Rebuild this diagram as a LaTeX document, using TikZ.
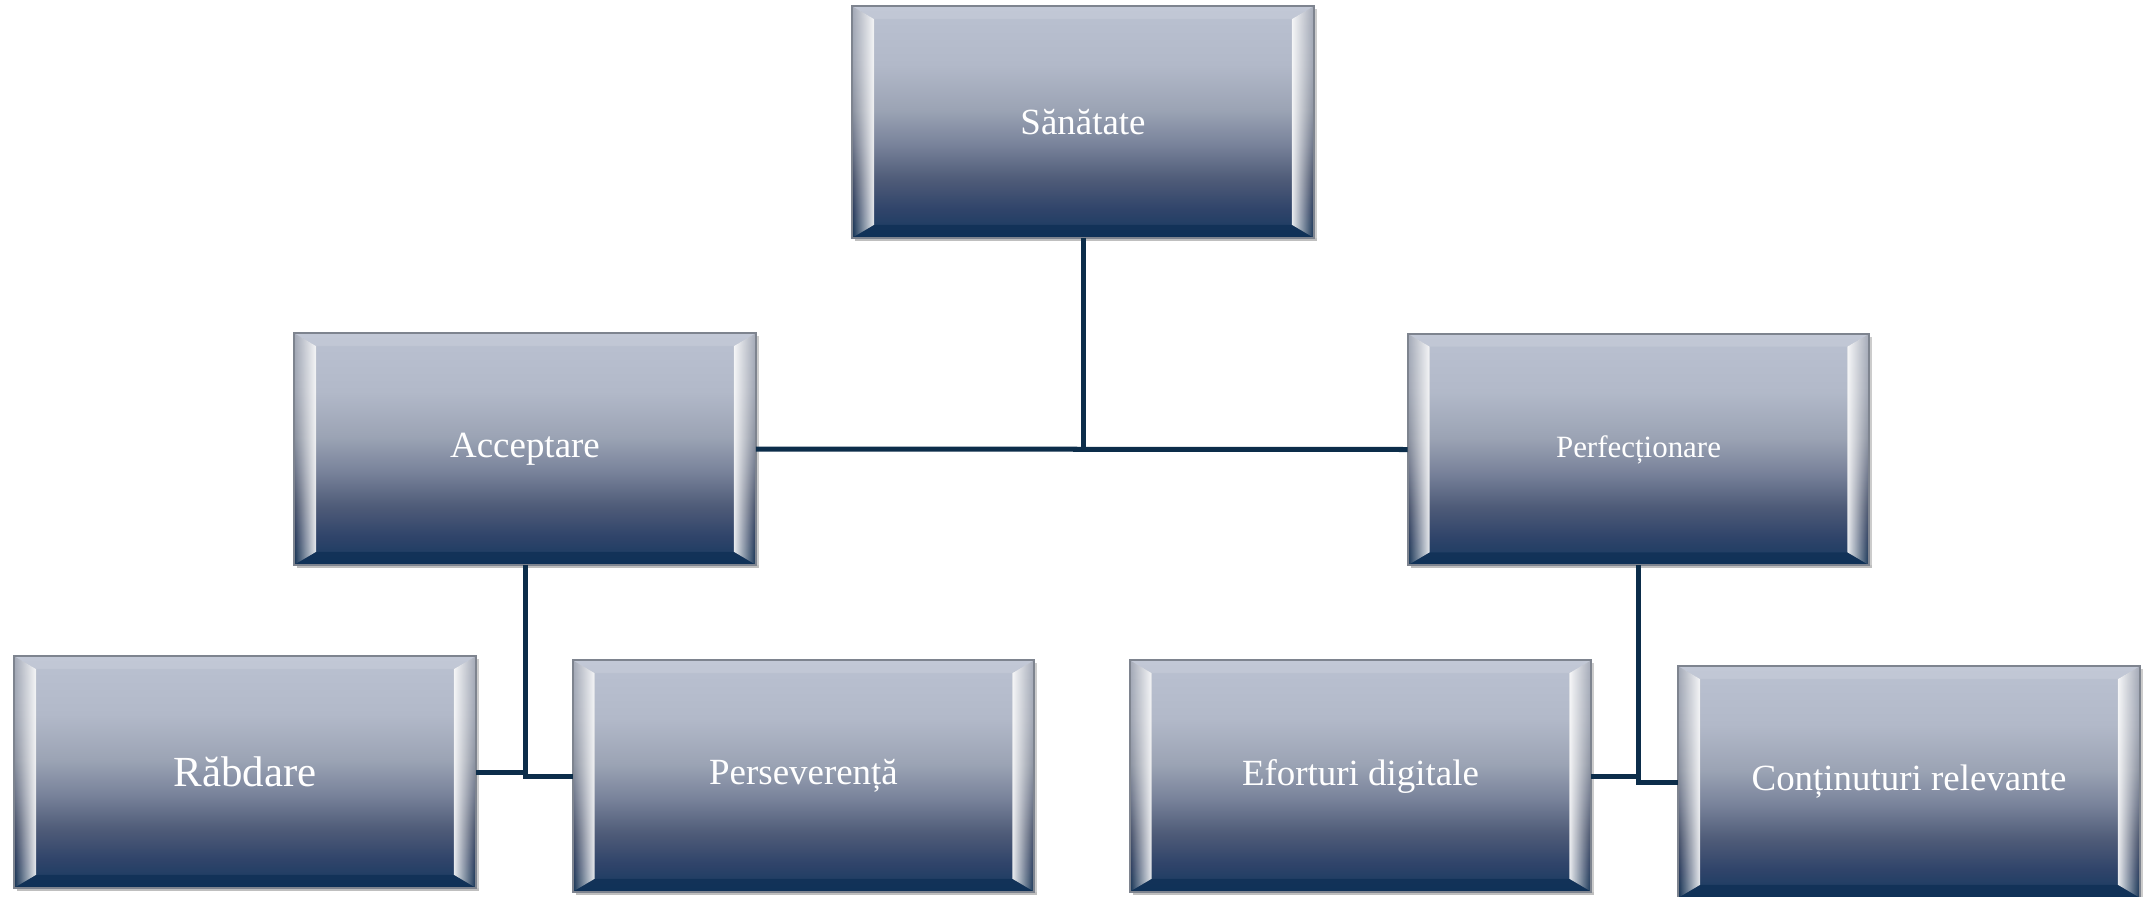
\documentclass[tikz,border=0pt]{standalone}
\usepackage{fontspec}
\setmainfont{Liberation Serif}
\usetikzlibrary{calc,fadings}
\definecolor{fbot}{HTML}{163A60}
\definecolor{fb1}{HTML}{30446A}
\definecolor{fb2}{HTML}{4E5B78}
\definecolor{fmid}{HTML}{78829A}
\definecolor{fmid2}{HTML}{9BA3B4}
\definecolor{ftop2}{HTML}{B2B9C9}
\definecolor{ftop}{HTML}{BAC1D1}
\definecolor{bevdark}{HTML}{0E2F55}
\definecolor{boxedge}{HTML}{7E848F}
\definecolor{connc}{HTML}{0C2D4A}
\pgfdeclareverticalshading{bevface}{100bp}{color(0bp)=(fbot); color(25bp)=(fbot); color(31bp)=(fb1); color(37.5bp)=(fb2); color(45bp)=(fmid); color(52.5bp)=(fmid2); color(62.5bp)=(ftop2); color(75bp)=(ftop); color(100bp)=(ftop)}
\tikzset{
  bx/.style={rectangle, inner sep=0pt, minimum width=4.6cm, minimum height=2.3cm,
             shading=bevface, text=white},
  conn/.style={draw=connc, line width=0.05cm},
}
\newcommand\bevelsof[1]{%
  \fill[black!25] ($(#1.south west)+(3,0)$) rectangle ($(#1.south east)+(3,3)$);
  \fill[black!20] ($(#1.north east)+(0,3)$) rectangle ($(#1.south east)+(3,0)$);
  \fill[white, opacity=0.12] (#1.north west) -- (#1.north east) -- ($(#1.north east)+(-22,13)$) -- ($(#1.north west)+(22,13)$) -- cycle;
  \fill[bevdark, opacity=0.75] (#1.south west) -- (#1.south east) -- ($(#1.south east)+(-22,-13)$) -- ($(#1.south west)+(22,-13)$) -- cycle;
  \fill[black, opacity=0.12] (#1.north west) -- ($(#1.north west)+(22,13)$) -- ($(#1.south west)+(22,-13)$) -- (#1.south west) -- cycle;
  \fill[black, opacity=0.12] (#1.north east) -- ($(#1.north east)+(-22,13)$) -- ($(#1.south east)+(-22,-13)$) -- (#1.south east) -- cycle;
  \fill[white, path fading=west, opacity=0.9] (#1.north west) -- ($(#1.north west)+(22,13)$) -- ($(#1.south west)+(22,-13)$) -- (#1.south west) -- cycle;
  \fill[white, path fading=east, opacity=0.9] (#1.north east) -- ($(#1.north east)+(-22,13)$) -- ($(#1.south east)+(-22,-13)$) -- (#1.south east) -- cycle;
  \draw[boxedge, line width=0.5pt] (#1.north west) rectangle (#1.south east);
}
\begin{document}
\begin{tikzpicture}[x=0.01cm, y=-0.01cm]
\useasboundingbox (0,0) rectangle (2154,897);
% boxes
\node[bx, font=\fontsize{10.5}{12}\selectfont] (san) at (1083,122) {Sănătate};
\node[bx, font=\fontsize{10.5}{12}\selectfont] (acc) at (525,449) {Acceptare};
\node[bx, font=\fontsize{8.8}{10}\selectfont] (perf) at (1638.5,449.5) {Perfecționare};
\node[bx, font=\fontsize{12.2}{14}\selectfont] (rab) at (245,772) {Răbdare};
\node[bx, font=\fontsize{10.5}{12}\selectfont] (pers) at (803.5,776) {Perseverență};
\node[bx, font=\fontsize{10.5}{12}\selectfont] (ef) at (1360.5,776) {Eforturi digitale};
\node[bx, font=\fontsize{10.5}{12}\selectfont] (con) at (1909,782) {Conținuturi relevante};
\bevelsof{san}\bevelsof{acc}\bevelsof{perf}\bevelsof{rab}\bevelsof{pers}\bevelsof{ef}\bevelsof{con}
% connectors
\draw[conn] (acc.east) -- (perf.west);
\draw[conn] (san.south) -- (san.south |- acc.east);
\draw[conn] (acc.south) |- (rab.east);
\draw[conn] (acc.south) |- (pers.west);
\draw[conn] (perf.south) |- (ef.east);
\draw[conn] (perf.south) |- (con.west);
\end{tikzpicture}
\end{document}
